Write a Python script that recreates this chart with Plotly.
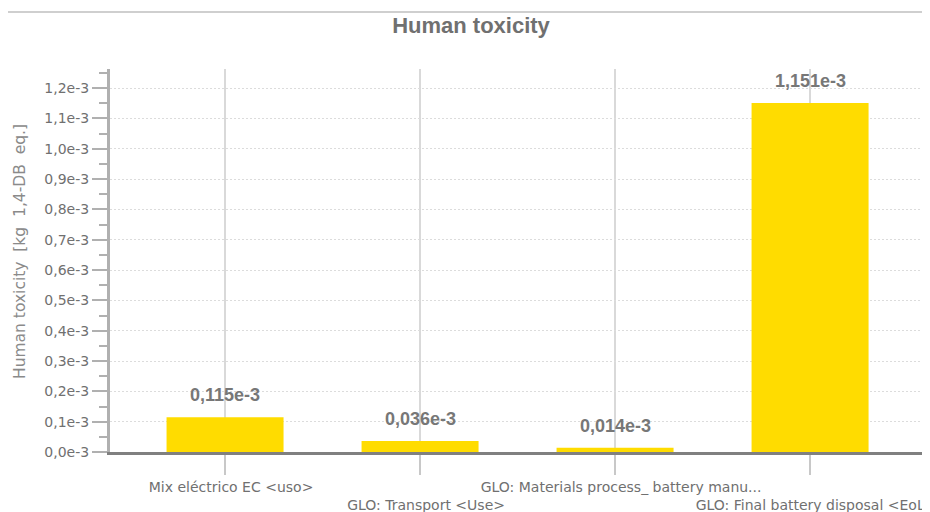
import plotly.graph_objects as go

# ---- data ----
categories = [
    "Mix eléctrico EC &lt;uso&gt;",
    "<br>GLO: Transport &lt;Use&gt;",
    "GLO: Materials process_ battery manu...",
    "<br>GLO: Final battery disposal &lt;EoL&gt;",
]
values = [0.115e-3, 0.036e-3, 0.014e-3, 1.151e-3]
value_labels = ["0,115e-3", "0,036e-3", "0,014e-3", "1,151e-3"]
y_tick_values = [0.0, 0.1e-3, 0.2e-3, 0.3e-3, 0.4e-3, 0.5e-3, 0.6e-3,
                 0.7e-3, 0.8e-3, 0.9e-3, 1.0e-3, 1.1e-3, 1.2e-3]
y_tick_labels = ["0,0e-3", "0,1e-3", "0,2e-3", "0,3e-3", "0,4e-3", "0,5e-3",
                 "0,6e-3", "0,7e-3", "0,8e-3", "0,9e-3", "1,0e-3", "1,1e-3", "1,2e-3"]
title_text = "Human toxicity"
y_title = "Human toxicity  [kg  1,4-DB  eq.]"

# page body has an 8px margin, so the figure starts at (8, 8) in the window
OFF = 8
W, H = 930 - OFF, 512 - OFF
L, R, T, B = 110 - OFF, 8, 69 - OFF, 60
pw = W - L - R
ph = H - T - B

def px_x(x):
    # x in window pixels
    return (x - OFF - L) / pw

def px_y(y):
    return (H - B - (y - OFF)) / ph

fig = go.Figure()
fig.add_trace(go.Bar(
    x=list(range(len(categories))),
    y=values,
    width=0.6,
    marker=dict(color="#FFDC00", line=dict(width=0)),
    hoverinfo="skip",
))

for i, (v, lab) in enumerate(zip(values, value_labels)):
    fig.add_annotation(
        x=i, y=v, xref="x", yref="y", text="<b>%s</b>" % lab,
        showarrow=False, yanchor="bottom", yshift=10,
        font=dict(family="Liberation Sans, Arial", size=18, color="#777777"),
    )

# axis title
fig.add_annotation(
    x=px_x(20), y=px_y(252), xref="paper", yref="paper", text=y_title,
    textangle=-90, showarrow=False, xanchor="center", yanchor="middle",
    font=dict(family="DejaVu Sans", size=15.5, color="#8a8a8a"),
)

# frame
fig.add_shape(type="line", xref="paper", yref="paper",
              x0=px_x(7), x1=px_x(7), y0=px_y(12), y1=px_y(530),
              line=dict(color="#cfcfcf", width=2), layer="below")
fig.add_shape(type="line", xref="paper", yref="paper",
              x0=px_x(6), x1=px_x(922), y0=px_y(12), y1=px_y(12),
              line=dict(color="#cfcfcf", width=2), layer="below")
fig.add_shape(type="rect", xref="paper", yref="paper",
              x0=px_x(925), x1=px_x(931), y0=px_y(12), y1=px_y(18),
              line=dict(width=0), fillcolor="#cfcfcf", layer="below")

fig.update_layout(
    width=W, height=H,
    margin=dict(l=L, r=R, t=T, b=B, pad=0),
    paper_bgcolor="white", plot_bgcolor="white",
    showlegend=False,
    bargap=0.4,
    title=dict(text="<b>%s</b>" % title_text, x=(471 - OFF) / W, xref="container",
               xanchor="center", y=1 - (25 - OFF) / H, yref="container", yanchor="middle",
               font=dict(family="Liberation Sans, Arial", size=22, color="#707070")),
)

fig.update_xaxes(
    tickmode="array", tickvals=list(range(len(categories))), ticktext=categories,
    range=[-0.59, 3.574], tickangle=0, ticklabeloverflow="allow", ticklabelshift=6,
    showgrid=True, gridcolor="#d9d9d9", gridwidth=2,
    ticks="outside", ticklen=20, tickcolor="#c8c8c8", tickwidth=2,
    showline=True, linecolor="#808080", linewidth=3,
    tickfont=dict(family="DejaVu Sans", size=14, color="#707070"),
    zeroline=False, automargin=False, fixedrange=True,
)

fig.update_yaxes(
    range=[0, 1.263e-3],
    tickmode="array", tickvals=y_tick_values, ticktext=y_tick_labels,
    showgrid=True, gridcolor="#dcdcdc", gridwidth=1, griddash="2px,2px",
    ticks="outside", ticklen=15, tickcolor="#b0b0b0", tickwidth=2,
    minor=dict(dtick=0.05e-3, tick0=0, ticks="outside", ticklen=8,
               tickcolor="#b0b0b0", tickwidth=2, showgrid=False),
    showline=True, linecolor="#b0b0b0", linewidth=3,
    tickfont=dict(family="DejaVu Sans", size=14, color="#707070"),
    zeroline=False, automargin=False, fixedrange=True,
)

fig.write_html("out.html")
